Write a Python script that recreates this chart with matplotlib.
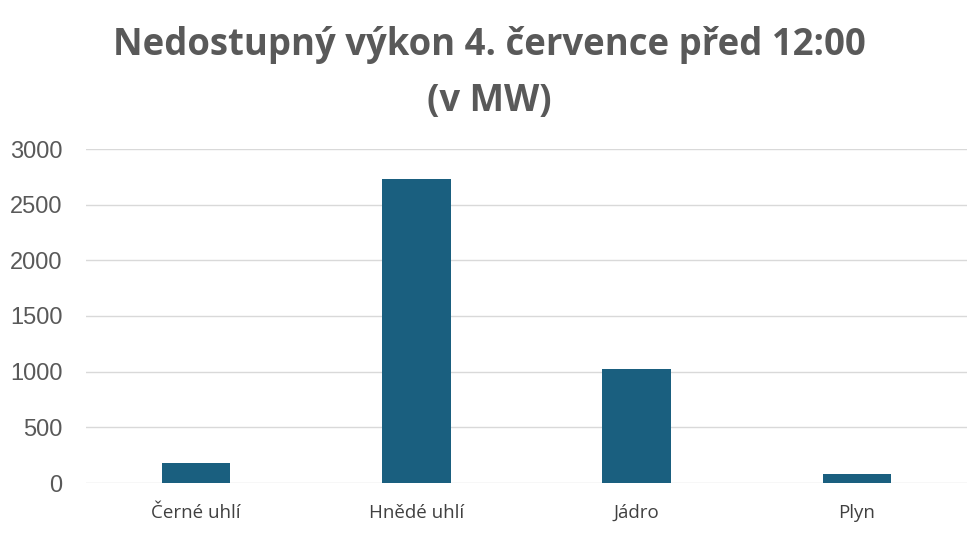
import matplotlib
matplotlib.use("Agg")
import matplotlib.pyplot as plt

categories = ["Černé uhlí", "Hnědé uhlí", "Jádro", "Plyn"]
values = [180, 2730, 1024, 81]
yticks = [0, 500, 1000, 1500, 2000, 2500, 3000]

fig = plt.figure(figsize=(9.78, 5.33), dpi=100)
ax = fig.add_axes([86/978, 1 - 483/533, (967-86)/978, (483-149)/533])

x = list(range(len(categories)))
ax.bar(x, values, width=0.31, color="#1a5f7f", zorder=3)
ax.set_xlim(-0.5, len(categories) - 0.5)
ax.set_ylim(0, 3000)
ax.set_yticks(yticks)
ax.set_yticklabels([str(v) for v in yticks], fontsize=17, color="#595959",
                   family=["Liberation Sans"])
ax.set_xticks(x)
ax.set_xticklabels(categories, fontsize=13.5, color="#404040", family=["Open Sans"])
ax.tick_params(axis="both", length=0)
ax.tick_params(axis="y", pad=17)
ax.tick_params(axis="x", pad=15)
ax.grid(axis="y", color="#d9d9d9", linewidth=1, zorder=0)
for s in ax.spines.values():
    s.set_visible(False)

fig.text(0.5, 1 - 45/533, "Nedostupný výkon 4. července před 12:00", ha="center", va="center",
         fontsize=26.3, fontweight="bold", color="#595959", family=["Open Sans"])
fig.text(0.5, 1 - 101/533, "(v MW)", ha="center", va="center",
         fontsize=26.3, fontweight="bold", color="#595959", family=["Open Sans"])

fig.savefig("out.png", dpi=100)
